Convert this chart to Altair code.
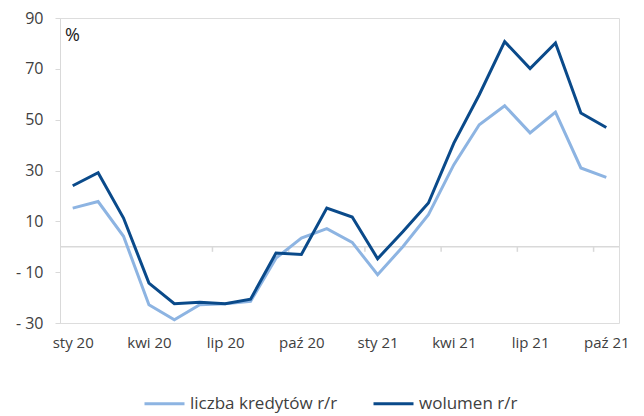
import altair as alt
import pandas as pd

months = ["sty 20", "lut 20", "mar 20", "kwi 20", "maj 20", "cze 20", "lip 20", "sie 20",
          "wrz 20", "paź 20", "lis 20", "gru 20", "sty 21", "lut 21", "mar 21", "kwi 21",
          "maj 21", "cze 21", "lip 21", "sie 21", "wrz 21", "paź 21"]
liczba = [15.2, 17.8, 4.1, -22.8, -28.7, -22.8, -22.4, -21.5, -4.5, 3.4, 7.1, 1.7,
          -11.0, 0.1, 12.6, 32.3, 48.0, 55.5, 44.8, 53.0, 31.0, 27.3]
wolumen = [24.0, 29.1, 11.3, -14.3, -22.4, -21.8, -22.4, -20.6, -2.5, -3.0, 15.2, 11.7,
           -4.7, 6.0, 17.2, 40.8, 59.8, 80.7, 70.1, 80.2, 52.6, 46.9]
tick_labels = ["sty 20", "kwi 20", "lip 20", "paź 20", "sty 21", "kwi 21", "lip 21", "paź 21"]
y_ticks = [-30, -10, 10, 30, 50, 70, 90]
series_names = ["liczba kredytów r/r", "wolumen r/r"]
colors = ["#8DB4E2", "#0A4A8A"]

rows = []
for i, m in enumerate(months):
    rows.append({"idx": i, "month": m, "series": series_names[0], "value": liczba[i]})
    rows.append({"idx": i, "month": m, "series": series_names[1], "value": wolumen[i]})
df = pd.DataFrame(rows)

tick_pos = [i * 3 - 0.5 for i in range(1, len(tick_labels))]
ticks_df = pd.DataFrame({"pos": tick_pos})

label_arr = "[" + ",".join("'" + t + "'" for t in tick_labels) + "]"
FONT = "Open Sans"

xscale = alt.Scale(domain=[-0.5, len(months) - 0.5], nice=False, zero=False)
yscale = alt.Scale(domain=[-30, 90], nice=False, zero=False)

x_enc = alt.X(
    "idx:Q", scale=xscale,
    axis=alt.Axis(values=[i * 3 for i in range(len(tick_labels))],
                  labelExpr=label_arr + "[round(datum.value/3)]",
                  ticks=False, domain=False, grid=False, title=None,
                  labelFontSize=15, labelColor="#404040", labelPadding=12,
                  labelFont=FONT),
)
y_enc = alt.Y(
    "value:Q", scale=yscale,
    axis=alt.Axis(values=y_ticks, grid=False, title="%", titleAngle=0,
                  titleX=12, titleY=17, titleAlign="center", titleBaseline="middle",
                  titleFontSize=18, titleFontWeight="normal", titleColor="#202020",
                  titleFont=FONT,
                  labelExpr="datum.value < 0 ? '- ' + abs(datum.value) : '' + datum.value",
                  domainColor="#D9D9D9", tickColor="#D9D9D9", tickSize=5,
                  labelFontSize=16, labelColor="#404040", labelPadding=12,
                  labelFont=FONT),
)

zero_rule = alt.Chart(pd.DataFrame({"z": [0]})).mark_rule(color="#D9D9D9", strokeWidth=1.5).encode(
    y=alt.Y("z:Q", scale=yscale)
)

tick_rules = alt.Chart(ticks_df).mark_rule(color="#D9D9D9", strokeWidth=1.5).encode(
    x=alt.X("pos:Q", scale=xscale),
    y=alt.datum(0),
    y2=alt.datum(-2),
)

lines = alt.Chart(df).mark_line(strokeWidth=3).encode(
    x=x_enc,
    y=y_enc,
    color=alt.Color("series:N",
                    scale=alt.Scale(domain=series_names, range=colors),
                    legend=alt.Legend(orient="none", legendX=83, legendY=364,
                                      direction="horizontal", title=None,
                                      symbolType="stroke", symbolStrokeWidth=3,
                                      symbolSize=1600, labelFontSize=17,
                                      labelColor="#404040", labelFont=FONT,
                                      labelOffset=4, columnPadding=29)),
)

chart = alt.layer(zero_rule, tick_rules, lines).properties(
    width=559, height=305,
    autosize=alt.AutoSizeParams(type="none"),
    padding={"left": 52, "top": 10, "right": 17, "bottom": 93},
).configure_view(stroke=None).configure(font=FONT)

chart.save("out.html", embed_options={"renderer": "svg", "actions": False})
